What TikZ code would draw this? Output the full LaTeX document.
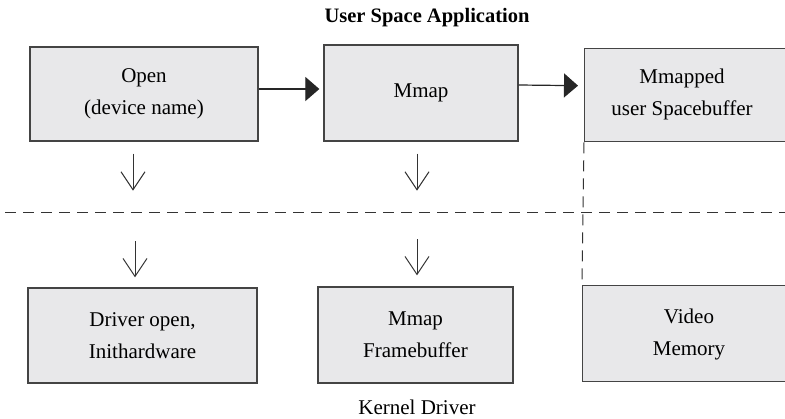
\documentclass[tikz,border=0pt]{standalone}
\usepackage{fontspec}
\setmainfont{Liberation Serif}
\usetikzlibrary{arrows.meta,calc}
\definecolor{boxfill}{HTML}{E8E8EA}
\definecolor{boxline}{HTML}{444444}
\tikzset{
  box/.style={draw=boxline, fill=boxfill, line width=1.3pt, align=center, inner sep=0pt,
    font=\fontsize{21}{32}\selectfont},
  harrow/.style={line width=1.2pt, draw=black!85, -{Triangle[length=14pt,width=24pt]}},
  varrow/.style={line width=1pt, draw=black!80, -{Straight Barb[length=18pt,width=24pt,line width=1pt]}},
  sep/.style={line width=1pt, draw=black!80, dash pattern=on 11pt off 7pt},
  lbl/.style={font=\fontsize{21}{24}\selectfont}
}
\begin{document}
\begin{tikzpicture}[x=1pt,y=-1pt]
\clip (0,0) rectangle (785,418);
\fill[white] (0,0) rectangle (785,418);
\node[lbl, font=\fontsize{20.5}{24}\selectfont\bfseries] (title) at (427,18) {User Space Application};
\node[box, minimum width=228pt, minimum height=94pt] (open) at (144,94) {Open\\(device name)};
\node[box, minimum width=194pt, minimum height=96pt] (mmap) at (421,93) {Mmap};
\node[box, minimum width=206pt, minimum height=93pt, anchor=north west] (mspace) at (584,48) {};
\node[lbl, align=center, font=\fontsize{21}{32}\selectfont] (mspacetxt) at (682,94) {Mmapped\\user Spacebuffer};
\node[box, minimum width=229pt, minimum height=95pt] (drv) at (142.5,335.5) {Driver open,\\Inithardware};
\node[box, minimum width=195pt, minimum height=96pt] (fb) at (415.5,335) {Mmap\\Framebuffer};
\node[box, minimum width=214pt, minimum height=96pt, anchor=north west] (vmem) at (582,285) {};
\node[lbl, align=center, font=\fontsize{21}{32}\selectfont] (vmemtxt) at (689,334) {Video\\Memory};
\node[lbl] (kernel) at (417,407) {Kernel Driver};
\draw[harrow] ([yshift=5pt]open.east) -- ([xshift=-4pt,yshift=4pt]mmap.west);
\draw[harrow] ([yshift=8pt]mmap.east) -- ([xshift=-6pt,yshift=9.5pt]mspace.west);
\draw[varrow] ($(open.south)+(-11,12)$) -- ++(0,37);
\draw[varrow] ($(mmap.south)+(-4,12)$) -- ++(0,37);
\draw[varrow] ($(drv.north)+(-7.5,-46)$) -- ++(0,36);
\draw[varrow] ($(fb.north)+(1.5,-47)$) -- ++(0,36);
\coordinate (lineL) at (5,212);
\coordinate (lineR) at (785,212);
\draw[sep] (lineL) -- (lineR);
\draw[sep] (mspace.south west) -- (vmem.north west);
\end{tikzpicture}
\end{document}
